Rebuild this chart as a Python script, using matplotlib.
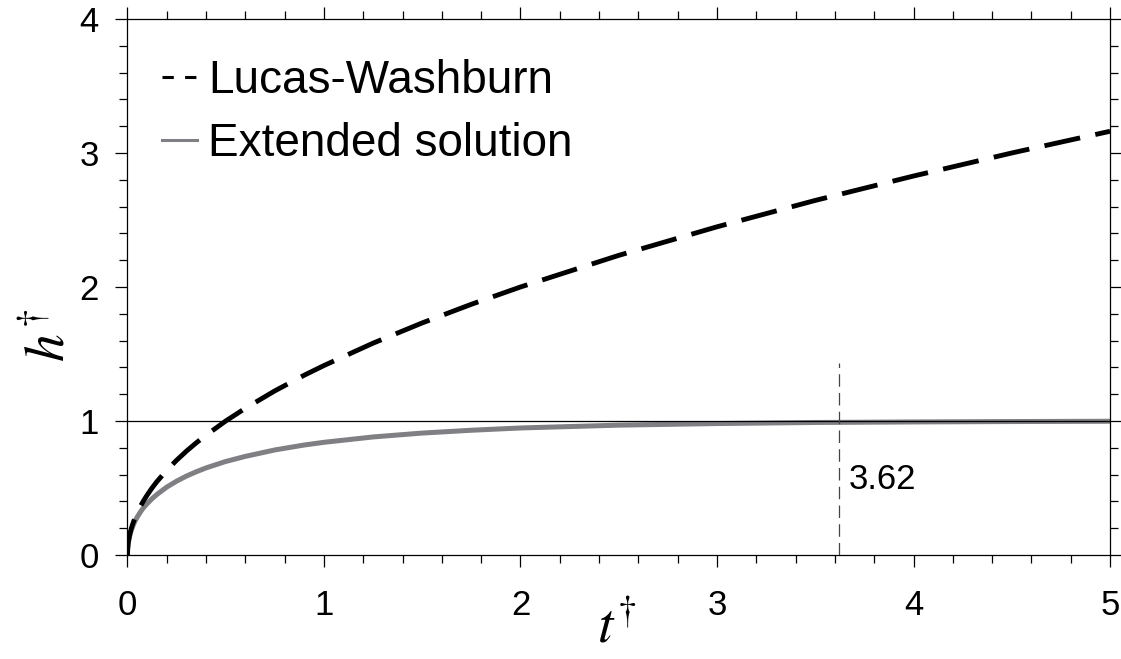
import matplotlib
matplotlib.use("Agg")
import matplotlib.pyplot as plt
from matplotlib.lines import Line2D
from matplotlib.ticker import MultipleLocator

plt.rcParams['font.family'] = ['Liberation Sans', 'DejaVu Sans']
plt.rcParams['mathtext.fontset'] = 'stix'

# Lucas-Washburn curve
t_lw = [0.0, 0.001, 0.003, 0.005, 0.01, 0.015, 0.02, 0.03, 0.04, 0.05, 0.065, 0.08, 0.1, 0.125,
        0.15, 0.2, 0.25, 0.3, 0.35, 0.4, 0.5, 0.6, 0.75, 0.9, 1.0, 1.25, 1.5, 1.75, 2.0, 2.5,
        3.0, 3.5, 4.0, 4.5, 5.0]
h_lw = [0.0, 0.045, 0.077, 0.1, 0.141, 0.173, 0.2, 0.245, 0.283, 0.316, 0.361, 0.4, 0.447, 0.5,
        0.548, 0.632, 0.707, 0.775, 0.837, 0.894, 1.0, 1.095, 1.225, 1.342, 1.414, 1.581, 1.732,
        1.871, 2.0, 2.236, 2.449, 2.646, 2.828, 3.0, 3.162]

# Extended solution
t_ext = [0.0, 0.001, 0.003, 0.005, 0.01, 0.015, 0.02, 0.03, 0.04, 0.05, 0.065, 0.08, 0.1, 0.125,
         0.15, 0.2, 0.25, 0.3, 0.35, 0.4, 0.5, 0.6, 0.75, 0.9, 1.0, 1.25, 1.5, 1.75, 2.0, 2.5,
         3.0, 3.5, 4.0, 4.5, 5.0]
h_ext = [0.0, 0.044, 0.076, 0.097, 0.135, 0.163, 0.187, 0.226, 0.258, 0.284, 0.319, 0.350, 0.383,
         0.420, 0.452, 0.507, 0.551, 0.589, 0.621, 0.650, 0.698, 0.736, 0.784, 0.821, 0.841, 0.881,
         0.910, 0.931, 0.948, 0.969, 0.981, 0.989, 0.993, 0.996, 0.998]

t_mark = 3.62
h_ref = 1.0
labels = ["Lucas-Washburn", "Extended solution"]

fig = plt.figure(figsize=(11.21, 6.59), dpi=100)
ax = fig.add_axes([0.1137, 0.1578, 0.8765, 0.8134])

ax.plot(t_ext, h_ext, color="#7f7f84", lw=3.6, solid_capstyle="butt", zorder=2)
ax.plot(t_lw, h_lw, color="black", lw=3.5, dashes=(7.5, 3.2), dash_capstyle="butt", zorder=3)
ax.axhline(h_ref, color="black", lw=0.9, zorder=4)
ax.plot([t_mark, t_mark], [0, 1.43], color="#444444", lw=0.9, dashes=(10, 5), zorder=4)
ax.text(t_mark + 0.05, 0.56, "%.2f" % t_mark, fontsize=25, va="center", ha="left")

ax.set_xlim(0, 5)
ax.set_ylim(0, 4)
ax.xaxis.set_major_locator(MultipleLocator(1))
ax.xaxis.set_minor_locator(MultipleLocator(0.2))
ax.yaxis.set_major_locator(MultipleLocator(1))
ax.yaxis.set_minor_locator(MultipleLocator(0.2))
ax.tick_params(which="both", direction="out", top=True, right=True, width=0.9)
ax.tick_params(which="major", length=8.6, labelsize=25)
ax.tick_params(axis="x", which="major", pad=16)
ax.tick_params(axis="y", which="major", pad=12)
ax.tick_params(which="minor", length=5.8)
for s in ax.spines.values():
    s.set_linewidth(0.9)

ax.set_xlabel(r"$t^{\dagger}$", fontsize=40)
ax.set_ylabel(r"$h^{\dagger}$", fontsize=40)
ax.xaxis.set_label_coords(0.498, -0.088)
ax.yaxis.set_label_coords(-0.052, 0.41)

handles = [Line2D([], [], color="black", lw=2.2, dashes=(3.7, 3.7), dash_capstyle="butt"),
           Line2D([], [], color="#7f7f84", lw=2.2)]
ax.legend(handles, labels, loc="upper left", bbox_to_anchor=(0.035, 0.925), borderaxespad=0,
          frameon=False, fontsize=33, handlelength=0.77, handletextpad=0.24, labelspacing=0.42,
          borderpad=0)

fig.savefig("out.png", dpi=100)
